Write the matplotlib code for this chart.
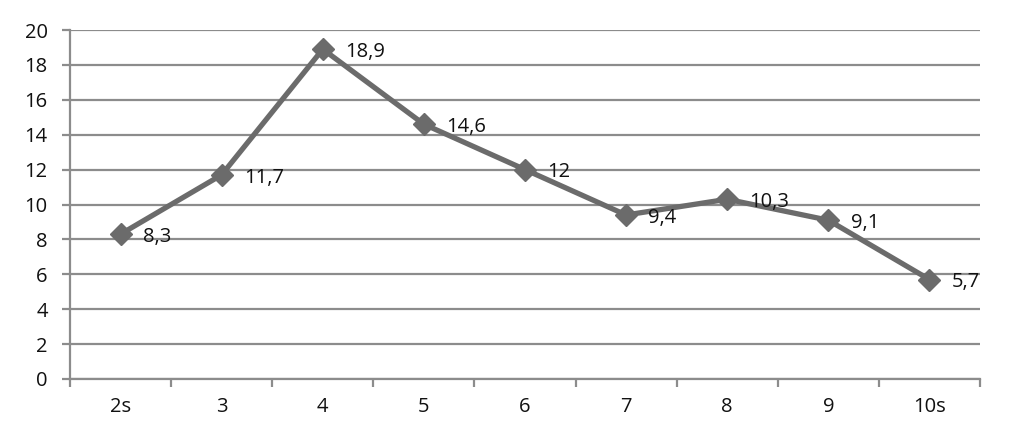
import matplotlib
matplotlib.use("Agg")
import matplotlib.pyplot as plt
import numpy as np

categories = ["2s", "3", "4", "5", "6", "7", "8", "9", "10s"]
values = [8.3, 11.7, 18.9, 14.6, 12, 9.4, 10.3, 9.1, 5.7]
labels = ["8,3", "11,7", "18,9", "14,6", "12", "9,4", "10,3", "9,1", "5,7"]
yticks = [0, 2, 4, 6, 8, 10, 12, 14, 16, 18, 20]

plt.rcParams['font.family'] = ['Open Sans', 'DejaVu Sans']

fig = plt.figure(figsize=(10.25, 4.43), dpi=100)
ax = fig.add_axes([70/1025, 1-379/443, 910/1025, (379-30)/443])

x = np.arange(len(categories))
grid_c = "#8c8c8c"
txt_c = "#111111"
fs = 14.5
ax.set_xlim(-0.5, len(categories) - 0.5)
ax.set_ylim(0, 20)
ax.set_yticks(yticks)
ax.set_yticklabels([str(t) for t in yticks], fontsize=fs, color=txt_c)
for t in yticks:
    ax.axhline(t, color=grid_c, lw=1.6, zorder=1)

ax.set_xticks(np.arange(-0.5, len(categories) - 0.4, 1))
ax.set_xticklabels([])
ax.set_xticks(x, minor=True)
ax.set_xticklabels(categories, minor=True, fontsize=fs, color=txt_c)
ax.tick_params(axis="x", which="minor", length=0, pad=13)
ax.tick_params(axis="x", which="major", length=6, width=1.6, color=grid_c, direction="out")
ax.tick_params(axis="y", length=6, width=1.6, color=grid_c, pad=10)

for s in ["top", "right"]:
    ax.spines[s].set_visible(False)
for s in ["left", "bottom"]:
    ax.spines[s].set_color(grid_c)
    ax.spines[s].set_linewidth(1.6)

ax.plot(x, values, color="#6b6b6b", lw=3.8, marker="D", markersize=11,
        markerfacecolor="#6b6b6b", markeredgecolor="#6b6b6b", zorder=3, clip_on=False)

for xi, v, lab in zip(x, values, labels):
    ax.annotate(lab, (xi, v), xytext=(16, -2), textcoords="offset points",
                fontsize=fs, color=txt_c, ha="left", va="center", zorder=4)

fig.savefig("out.png", dpi=100)
